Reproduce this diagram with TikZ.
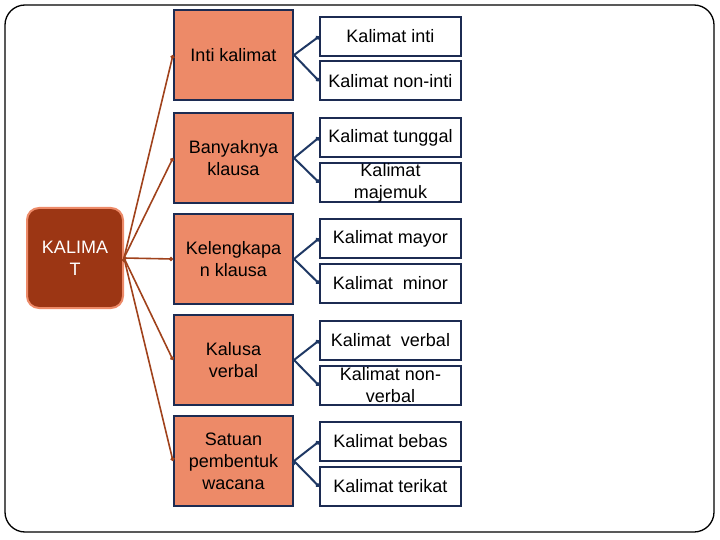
\documentclass[tikz,border=0pt]{standalone}
\usepackage{fontspec}
\setmainfont{Liberation Sans}
\usetikzlibrary{arrows.meta}

\definecolor{salmon}{HTML}{ED8A68}
\definecolor{rust}{HTML}{9C3614}
\definecolor{navy}{HTML}{1C2B52}
\definecolor{linkred}{HTML}{A0421C}
\definecolor{linkblue}{HTML}{1F3864}

\tikzset{
  every node/.style={align=center, font=\fontsize{18}{22}\selectfont, inner sep=0pt},
  root/.style={draw=salmon, fill=rust, text=white, line width=2pt, rounded corners=12pt,
    minimum width=96pt, minimum height=100pt},
  topic/.style={draw=navy, fill=salmon, line width=2pt, minimum width=119pt, minimum height=90pt},
  sub/.style={draw=navy, fill=white, line width=2pt, minimum width=141pt, minimum height=39pt},
  redlink/.style={draw=linkred, line width=1.6pt, -{Circle[length=4pt]}},
  bluelink/.style={draw=linkblue, line width=2pt, -{Circle[length=4pt]}}
}

\begin{document}
\begin{tikzpicture}[x=1pt, y=-1pt]
        \useasboundingbox (0,0) rectangle (720,540);
        \draw[line width=1.3pt, rounded corners=20pt] (5,5) rectangle (714,532);

        \node[root] (kal) at (75,258) {KALIMA\\T};

        \node[topic] (inti) at (233.5,55) {Inti kalimat};
        \node[topic] (banyak) at (233.5,158) {Banyaknya\\klausa};
        \node[topic] (lengkap) at (233.5,259) {Kelengkapa\\n klausa};
        \node[topic] (verbal) at (233.5,360) {Kalusa\\verbal};
        \node[topic] (satuan) at (233.5,461) {Satuan\\pembentuk\\wacana};

        \node[sub] (kinti) at (390.5,36.5) {Kalimat inti};
        \node[sub] (knoninti) at (390.5,81) {Kalimat non-inti};
        \node[sub] (ktunggal) at (390.5,137.5) {Kalimat tunggal};
        \node[sub] (kmajemuk) at (390.5,182.5) {Kalimat\\majemuk};
        \node[sub] (kmayor) at (390.5,238.5) {Kalimat mayor};
        \node[sub] (kminor) at (390.5,283.5) {Kalimat\ \ minor};
        \node[sub] (kverbal) at (390.5,340.5) {Kalimat\ \ verbal};
        \node[sub] (knonverbal) at (390.5,385.5) {Kalimat non-\\verbal};
        \node[sub] (kbebas) at (390.5,441.5) {Kalimat bebas};
        \node[sub] (kterikat) at (390.5,486.5) {Kalimat terikat};

        \path[redlink] (kal.east) edge (inti.west)
              (kal.east) edge (banyak.west)
              (kal.east) edge (lengkap.west)
              (kal.east) edge (verbal.west)
              (kal.east) edge (satuan.west);

        \path[bluelink] (inti.east) edge (kinti.west)
              (inti.east) edge (knoninti.west)
              (banyak.east) edge (ktunggal.west)
              (banyak.east) edge (kmajemuk.west)
              (lengkap.east) edge (kmayor.west)
              (lengkap.east) edge (kminor.west)
              (verbal.east) edge (kverbal.west)
              (verbal.east) edge (knonverbal.west)
              (satuan.east) edge (kbebas.west)
              (satuan.east) edge (kterikat.west);
    \end{tikzpicture}
\end{document}
